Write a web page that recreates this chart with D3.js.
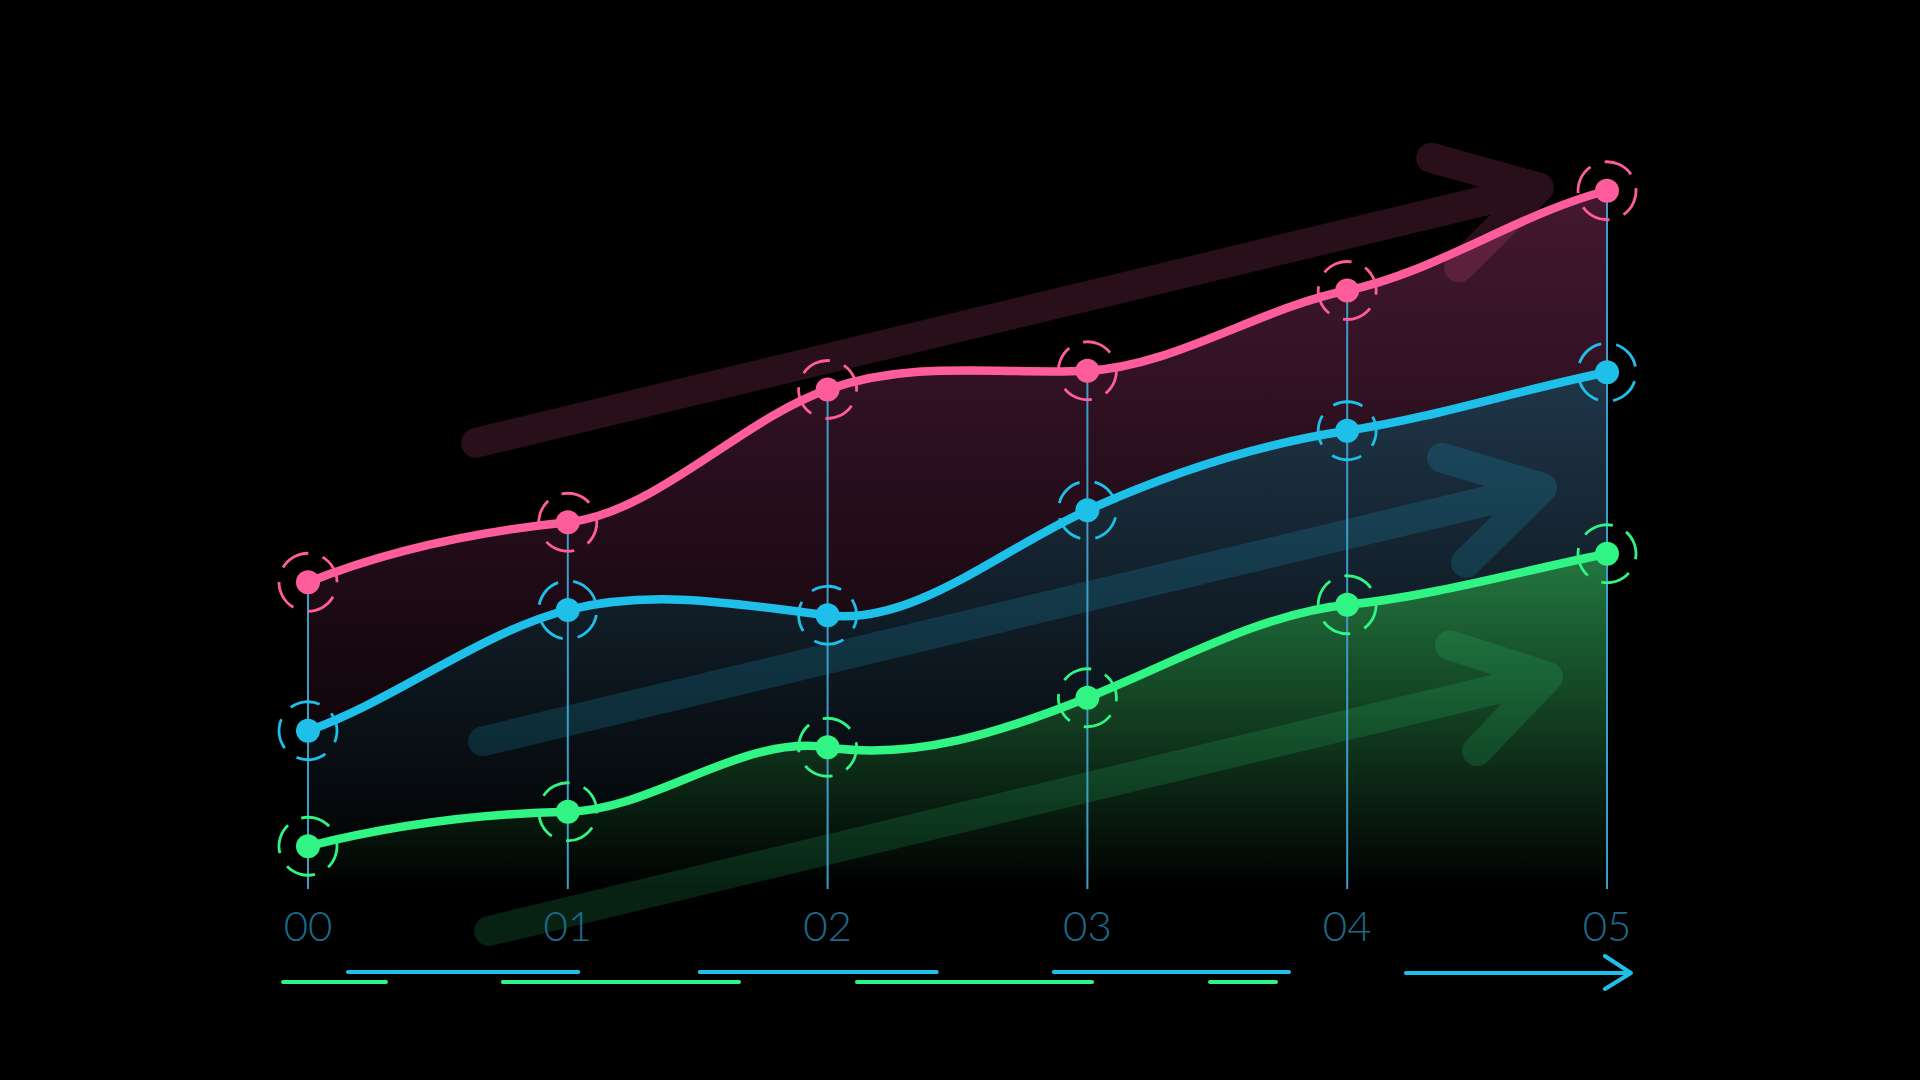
<!DOCTYPE html>
<html><head><meta charset="utf-8">
<script src="https://cdn.jsdelivr.net/npm/d3@7"></script>
<style>html,body{margin:0;padding:0;background:#000;}svg{display:block;}</style>
</head><body>
<svg id="chart" width="1920" height="1080"></svg>
<script>
// ---- data ----
const categories = ["00", "01", "02", "03", "04", "05"];
const pinkValues  = [40.9, 48.9, 66.6, 69.1, 79.8, 93.1];
const blueValues  = [21.1, 37.2, 36.5, 50.5, 61.1, 68.9];
const greenValues = [5.7, 10.3, 18.9, 25.5, 37.9, 44.7];
// slope of each curve at each point (value change per category step)
const pinkSlopes  = [13.9, 3.5, 12.1, 1.7, 6.9, 8.7];
const blueSlopes  = [12.1, 8.7, -4.2, 15.6, 5.2, 6.9];
const greenSlopes = [8.7, 0.7, -5.2, 13.9, 3.5, 6.9];
// decorative trend arrows (index position, value): start, tip, upper arm, lower arm
const pinkArrow  = [[0.647, 59.5], [4.738, 93.5], [4.323, 97.5], [4.43, 82.9]];
const blueArrow  = [[0.674, 19.7], [4.75, 53.5], [4.365, 57.5], [4.457, 43.5]];
const greenArrow = [[0.697, -5.6], [4.773, 28.3], [4.396, 32.5], [4.5, 18.4]];
// decorative dashes under the axis (index ranges)
const blueDashes  = [[0.154, 1.04], [1.508, 2.42], [2.871, 3.776]];
const greenDashes = [[-0.096, 0.3], [0.75, 1.659], [2.113, 3.018], [3.472, 3.726]];
const axisArrow = [4.226, 5.092];

const series = [
  {name: "pink",  values: pinkValues,  slopes: pinkSlopes,  color: "#ff5c9c", top: "#441830", arrow: pinkArrow,  aop: 0.16},
  {name: "blue",  values: blueValues,  slopes: blueSlopes,  color: "#1ec0ea", top: "#1f3649", arrow: blueArrow,  aop: 0.16},
  {name: "green", values: greenValues, slopes: greenSlopes, color: "#30f484", top: "#237840", arrow: greenArrow, aop: 0.14}
];

const svg = d3.select("#chart");
const x = d3.scalePoint().domain(categories).range([308, 1607]);
const xi = d3.scaleLinear().domain([0, categories.length - 1]).range([308, 1607]);
const y = d3.scaleLinear().domain([0, 100]).range([889, 139]);
const base = y(0);

// smooth Hermite curve through the points with the given slopes
function curvePath(vals, slopes, closeToBase) {
  const p = d3.path();
  vals.forEach((v, i) => {
    const X = xi(i), Y = y(v);
    if (i === 0) { p.moveTo(X, Y); return; }
    const X0 = xi(i - 1), h = (X - X0) / 3;
    p.bezierCurveTo(X0 + h, y(vals[i - 1] + slopes[i - 1] / 3), X - h, y(v - slopes[i] / 3), X, Y);
  });
  if (closeToBase) {
    p.lineTo(xi(vals.length - 1), base);
    p.lineTo(xi(0), base);
    p.closePath();
  }
  return p.toString();
}

const defs = svg.append("defs");
series.forEach(s => {
  const topY = y(d3.max(s.values));
  const g = defs.append("linearGradient").attr("id", "grad-" + s.name)
    .attr("gradientUnits", "userSpaceOnUse")
    .attr("x1", 0).attr("x2", 0).attr("y1", topY).attr("y2", base);
  g.append("stop").attr("offset", 0).attr("stop-color", s.top);
  g.append("stop").attr("offset", 1).attr("stop-color", "#000");
});

// areas
svg.append("g").selectAll("path").data(series).join("path")
  .attr("d", s => curvePath(s.values, s.slopes, true))
  .attr("fill", s => "url(#grad-" + s.name + ")");

// trend arrows
svg.append("g").selectAll("path").data(series).join("path")
  .attr("d", s => {
    const p = s.arrow.map(([i, v]) => [xi(i), y(v)]);
    return `M${p[0]}L${p[1]}M${p[2]}L${p[1]}L${p[3]}`;
  })
  .attr("fill", "none")
  .attr("stroke", s => s.color)
  .attr("stroke-opacity", s => s.aop)
  .attr("stroke-width", 30)
  .attr("stroke-linecap", "round")
  .attr("stroke-linejoin", "round");

// vertical drop lines
svg.append("g").selectAll("line").data(categories).join("line")
  .attr("x1", d => x(d)).attr("x2", d => x(d))
  .attr("y1", (d, i) => y(pinkValues[i])).attr("y2", base)
  .attr("stroke", "#3d9dc9").attr("stroke-width", 2);

// lines
svg.append("g").selectAll("path").data(series).join("path")
  .attr("d", s => curvePath(s.values, s.slopes, false))
  .attr("fill", "none")
  .attr("stroke", s => s.color)
  .attr("stroke-width", 8.5)
  .attr("stroke-linecap", "round");

// markers
const ringR = 29;
const circ = 2 * Math.PI * ringR;
series.forEach((s, si) => {
  const g = svg.append("g");
  s.values.forEach((v, i) => {
    const cx = x(categories[i]), cy = y(v);
    g.append("circle").attr("cx", cx).attr("cy", cy).attr("r", ringR)
      .attr("fill", "none").attr("stroke", s.color).attr("stroke-width", 2.8)
      .attr("stroke-dasharray", `${circ / 6} ${circ / 12}`)
      .attr("transform", `rotate(${(i * 47 + si * 23) % 90 - 60},${cx},${cy})`);
    g.append("circle").attr("cx", cx).attr("cy", cy).attr("r", 12).attr("fill", s.color);
  });
});

// axis labels
svg.append("g").selectAll("text").data(categories).join("text")
  .attr("x", d => x(d)).attr("y", base + 52)
  .attr("text-anchor", "middle")
  .attr("font-family", "Lato, 'Open Sans', sans-serif")
  .attr("font-weight", 300)
  .attr("font-size", 42)
  .attr("fill", "#1c6a8a")
  .text(d => d);

// decorative dashes
svg.append("g").selectAll("line").data(blueDashes).join("line")
  .attr("x1", d => xi(d[0])).attr("x2", d => xi(d[1]))
  .attr("y1", base + 83).attr("y2", base + 83)
  .attr("stroke", "#1ec0ea").attr("stroke-width", 4).attr("stroke-linecap", "round");
svg.append("g").selectAll("line").data(greenDashes).join("line")
  .attr("x1", d => xi(d[0])).attr("x2", d => xi(d[1]))
  .attr("y1", base + 93).attr("y2", base + 93)
  .attr("stroke", "#30f484").attr("stroke-width", 4).attr("stroke-linecap", "round");

// axis arrow
const ax0 = xi(axisArrow[0]), ax1 = xi(axisArrow[1]), ay = base + 84;
svg.append("path")
  .attr("d", `M${ax0},${ay}L${ax1},${ay}M${ax1 - 26},${ay - 17}L${ax1},${ay}L${ax1 - 26},${ay + 16}`)
  .attr("fill", "none").attr("stroke", "#1ec0ea").attr("stroke-width", 4)
  .attr("stroke-linecap", "round").attr("stroke-linejoin", "round");
</script>
</body></html>
